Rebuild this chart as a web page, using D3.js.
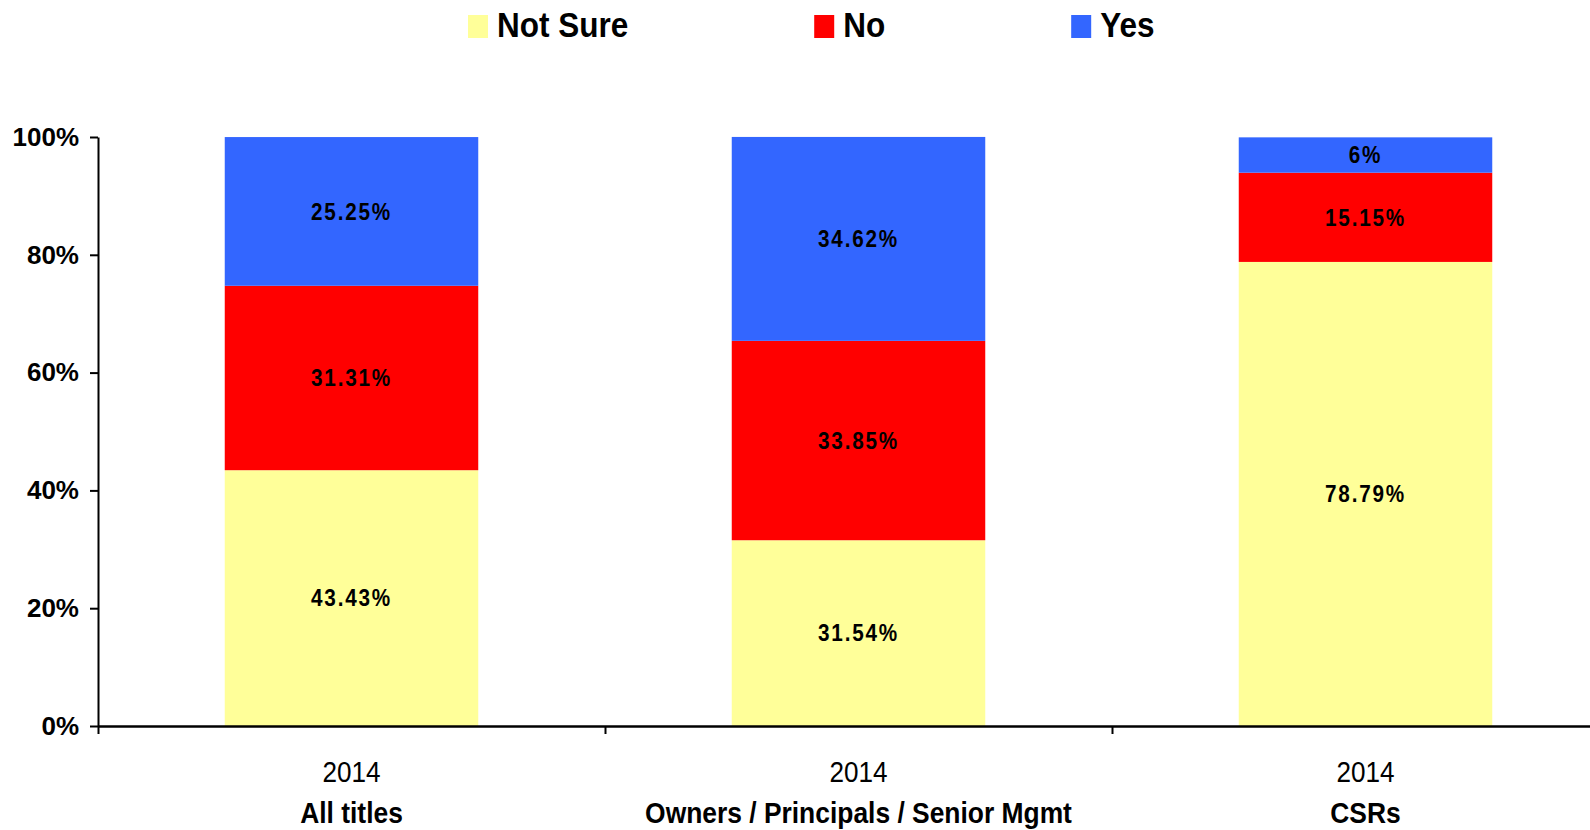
<!DOCTYPE html>
<html>
<head>
<meta charset="utf-8">
<script src="https://cdn.jsdelivr.net/npm/d3@7"></script>
<style>
  html, body { margin: 0; padding: 0; background: #fff; }
  svg { display: block; font-family: "Liberation Sans", Arial, sans-serif; }
</style>
</head>
<body>
<svg id="chart" width="1590" height="830"></svg>
<script>
// Survey responses by job title (stacked to 100%)
const groups = ["All titles", "Owners / Principals / Senior Mgmt", "CSRs"];
const years = ["2014", "2014", "2014"];
const seriesNames = ["Not Sure", "No", "Yes"];
const notSure = [43.43, 31.54, 78.79];
const no = [31.31, 33.85, 15.15];
const yes = [25.25, 34.62, 6];
const seriesColors = ["#FFFF99", "#FF0000", "#3366FF"];
const yTicks = [0, 20, 40, 60, 80, 100];

const rows = groups.map((g, i) => ({
  group: g, year: years[i],
  "Not Sure": notSure[i], "No": no[i], "Yes": yes[i]
}));

const svg = d3.select("#chart");
const plot = { left: 98, right: 1619, top: 137, bottom: 726 };

const x = d3.scaleBand()
  .domain(groups)
  .range([plot.left, plot.right])
  .paddingInner(0.5)
  .paddingOuter(0.25);

const y = d3.scaleLinear().domain([0, 100]).range([plot.bottom, plot.top]);

const color = d3.scaleOrdinal().domain(seriesNames).range(seriesColors);

const stacked = d3.stack().keys(seriesNames)(rows);

// Bars
const layer = svg.append("g").selectAll("g")
  .data(stacked)
  .join("g")
  .attr("fill", d => color(d.key));

layer.selectAll("rect")
  .data(d => d.map(v => Object.assign(v, { key: d.key })))
  .join("rect")
  .attr("x", d => x(d.data.group))
  .attr("width", x.bandwidth())
  .attr("y", d => y(d[1]))
  .attr("height", d => y(d[0]) - y(d[1]));

// Value labels centred in each segment (slightly condensed, spaced glyphs)
const fmt = v => v + "%";
layer.selectAll("text")
  .data(d => d)
  .join("text")
  .attr("transform", d =>
    `translate(${x(d.data.group) + x.bandwidth() / 2},${(y(d[0]) + y(d[1])) / 2}) scale(0.9,1)`)
  .attr("dy", "0.36em")
  .attr("text-anchor", "middle")
  .attr("fill", "#000")
  .style("font-weight", "bold")
  .style("font-size", "23px")
  .style("letter-spacing", "2px")
  .text(d => fmt(d.data[d.key]));

// Y axis
const yAxis = svg.append("g")
  .attr("transform", `translate(${plot.left},0)`)
  .call(d3.axisLeft(y).tickValues(yTicks).tickFormat(d => d + "%")
    .tickSize(8).tickSizeOuter(0).tickPadding(11));
yAxis.select(".domain").attr("stroke", "#000").attr("stroke-width", 2);
yAxis.selectAll(".tick line").attr("stroke", "#000").attr("stroke-width", 2);
yAxis.selectAll(".tick text")
  .attr("fill", "#000")
  .style("font-size", "26px")
  .style("font-weight", "bold")
  .style("font-family", "\"Liberation Sans\", Arial, sans-serif");

// X axis: ticks at category boundaries
const xb = d3.scaleLinear().domain([0, groups.length]).range([plot.left, plot.right]);
const xAxis = svg.append("g")
  .attr("transform", `translate(0,${plot.bottom})`)
  .call(d3.axisBottom(xb).tickValues(d3.range(groups.length + 1))
    .tickFormat("").tickSize(8).tickSizeOuter(0));
xAxis.select(".domain").attr("stroke", "#000").attr("stroke-width", 2.5);
xAxis.selectAll(".tick line").attr("stroke", "#000").attr("stroke-width", 2);

// Category labels: year then group name
const cats = svg.append("g").selectAll("g")
  .data(rows)
  .join("g")
  .attr("transform", d => `translate(${x(d.group) + x.bandwidth() / 2},0)`);
cats.append("text")
  .attr("transform", "translate(0,782) scale(0.9,1)")
  .attr("text-anchor", "middle")
  .style("font-size", "29px")
  .text(d => d.year);
cats.append("text")
  .attr("transform", "translate(0,823) scale(0.88,1)")
  .attr("text-anchor", "middle")
  .style("font-size", "30px")
  .style("font-weight", "bold")
  .text(d => d.group);

// Legend
const legend = svg.append("g");
const legendScaleX = 0.9;
let lx = 468;
seriesNames.forEach(name => {
  const item = legend.append("g").attr("transform", `translate(${lx},0)`);
  item.append("rect")
    .attr("x", 0).attr("y", 15)
    .attr("width", 20).attr("height", 23)
    .attr("fill", color(name));
  const t = item.append("text")
    .attr("transform", `translate(29,37) scale(${legendScaleX},1)`)
    .style("font-size", "35px")
    .style("font-weight", "bold")
    .text(name);
  lx += 29 + t.node().getComputedTextLength() * legendScaleX + 186;
});
</script>
</body>
</html>
